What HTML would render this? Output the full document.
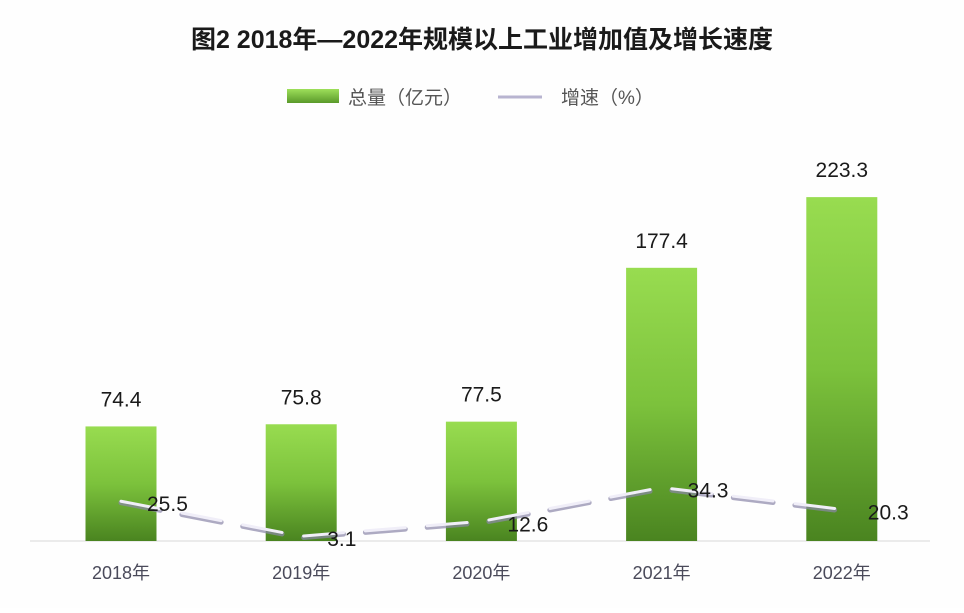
<!DOCTYPE html>
<html><head><meta charset="utf-8">
<style>
html,body{margin:0;padding:0;background:#fff;}
body{width:964px;height:608px;overflow:hidden;font-family:"Liberation Sans","Noto Sans CJK SC",sans-serif;}
</style></head>
<body>
<svg id="chart" width="964" height="608" viewBox="0 0 964 608" xmlns="http://www.w3.org/2000/svg">
<defs>
<linearGradient id="barGrad" x1="0" y1="0" x2="0" y2="1">
<stop offset="0" stop-color="#98dc50"/>
<stop offset="0.5" stop-color="#7cc23c"/>
<stop offset="1" stop-color="#4a8420"/>
</linearGradient>
<linearGradient id="legGrad" x1="0" y1="0" x2="0" y2="1">
<stop offset="0" stop-color="#9ee05a"/><stop offset="1" stop-color="#5a9a2a"/>
</linearGradient>
</defs>
<rect width="964" height="608" fill="#fefefe"/>
<text x="482" y="48" text-anchor="middle" font-size="25" font-weight="bold" fill="#1a1a1a" font-family="'Liberation Sans','Noto Sans CJK SC',sans-serif">图2  2018年—2022年规模以上工业增加值及增长速度</text>
<g>
<rect x="287" y="89" width="52" height="14" fill="url(#legGrad)"/>
<text x="348" y="104" font-size="19" fill="#555" font-family="'Liberation Sans','Noto Sans CJK SC',sans-serif">总量（亿元）</text>
<line x1="498" y1="97" x2="542" y2="97" stroke="#b8b4d0" stroke-width="3"/>
<text x="561" y="104" font-size="19" fill="#555" font-family="'Liberation Sans','Noto Sans CJK SC',sans-serif">增速（%）</text>
</g>
<line x1="30" y1="541" x2="930" y2="541" stroke="#d8d8d8" stroke-width="1"/>
<g id="bars"></g>
<g id="line"></g>
<g id="labels"></g>
</svg>
<script>
const categories = ["2018年","2019年","2020年","2021年","2022年"];
const totals = [74.4, 75.8, 77.5, 177.4, 223.3];
const growth = [25.5, 3.1, 12.6, 34.3, 20.3];
const totalLabels = ["74.4","75.8","77.5","177.4","223.3"];
const growthLabels = ["25.5","3.1","12.6","34.3","20.3"];

const NS = "http://www.w3.org/2000/svg";
const baseY = 541, pxPerUnit = 1.54;
function xScale(i){ return 121 + i*180.2; }
function yScale(v){ return baseY - v*pxPerUnit; }
function yLine(v){ return baseY - v*1.56; }
const barW = 71;
const bars = document.getElementById('bars');
const lineG = document.getElementById('line');
const labels = document.getElementById('labels');
function mk(tag, attrs){ const e=document.createElementNS(NS,tag); for(const k in attrs) e.setAttribute(k,attrs[k]); return e; }

categories.forEach((c,i)=>{
  const x = xScale(i), y = yScale(totals[i]);
  const r = mk('rect',{x:x-barW/2,y:y,width:barW,height:baseY-y,fill:'url(#barGrad)'});
  
  
  bars.appendChild(r);
  const t = mk('text',{x:x,y:y-20,'text-anchor':'middle','font-size':'21',fill:'#1a1a1a'});
  t.textContent = totalLabels[i];
  
  
  labels.appendChild(t);
  const xl = mk('text',{x:x,y:579,'text-anchor':'middle','font-size':'18',fill:'#4a4a5a','font-family':"'Liberation Sans','Noto Sans CJK SC',sans-serif"});
  xl.textContent = c;
  
  
  labels.appendChild(xl);
});
const pts = growth.map((v,i)=>xScale(i)+','+yLine(v)).join(' ');
const shadow = mk('polyline',{points:pts,fill:'none',stroke:'#8a86a8','stroke-width':'5','stroke-dasharray':'40 22','stroke-linecap':'round','stroke-linejoin':'round',transform:'translate(0,1.5)',opacity:'0.7'});


lineG.appendChild(shadow);
const pl = mk('polyline',{points:pts,fill:'none',stroke:'#f0eef8','stroke-width':'3','stroke-dasharray':'40 22','stroke-linecap':'round','stroke-linejoin':'round'});


lineG.appendChild(pl);
growth.forEach((v,i)=>{
  const t = mk('text',{x:xScale(i)+26,y:yLine(v)+10,'font-size':'21',fill:'#1a1a1a'});
  t.textContent = growthLabels[i];
  
  
  labels.appendChild(t);
});
</script>
</body></html>
